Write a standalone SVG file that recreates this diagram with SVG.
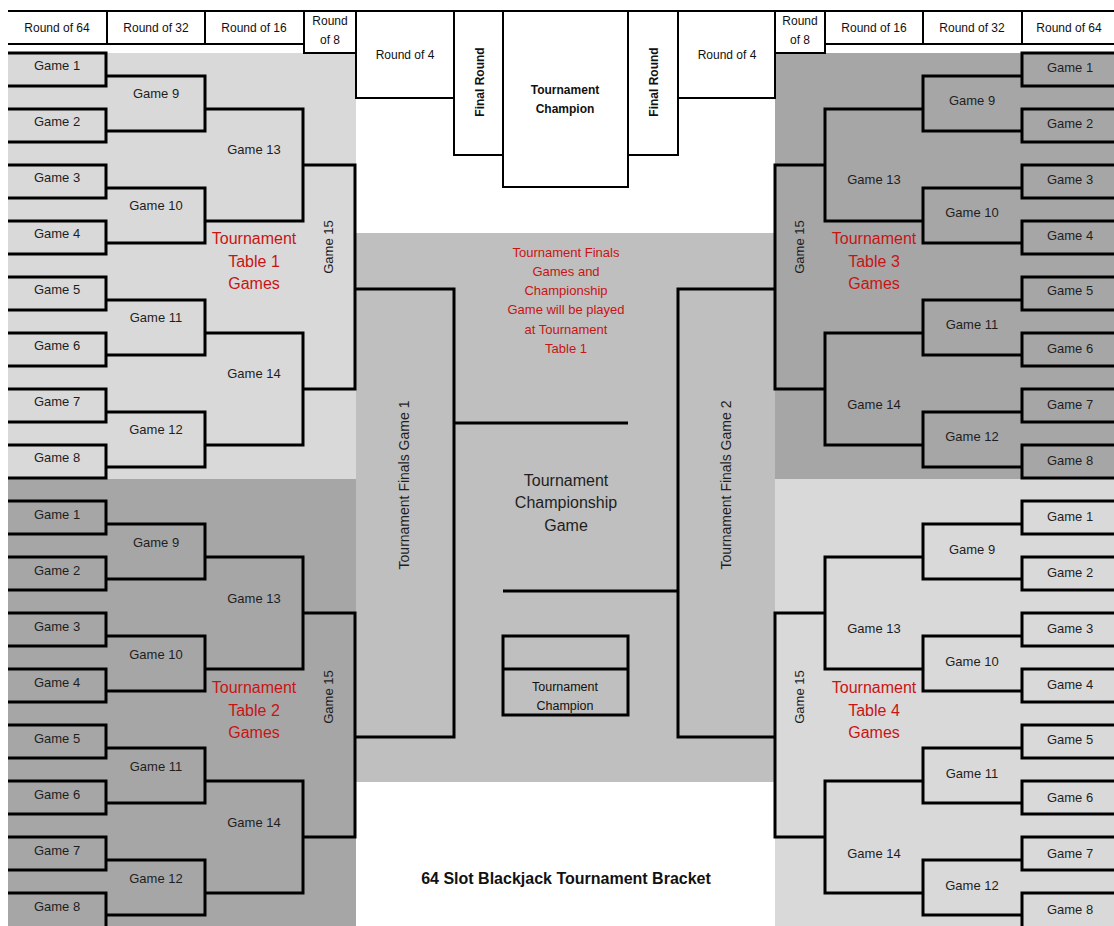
<svg xmlns="http://www.w3.org/2000/svg" width="1114" height="926" viewBox="0 0 1114 926">
<style>
.br{fill:none;stroke:#000;stroke-width:3;stroke-linejoin:miter;stroke-linecap:butt}
.hd{fill:#fff;stroke:#000;stroke-width:2}
.t{font-family:"Liberation Sans",Arial,sans-serif;font-size:13px;fill:#1e1e1e;text-anchor:middle}
.h{font-family:"Liberation Sans",Arial,sans-serif;font-size:12px;fill:#111;text-anchor:middle}
.hb{font-family:"Liberation Sans",Arial,sans-serif;font-size:12px;font-weight:bold;fill:#111;text-anchor:middle}
.red{font-family:"Liberation Sans",Arial,sans-serif;font-size:16px;fill:#c81414;text-anchor:middle}
.red2{font-family:"Liberation Sans",Arial,sans-serif;font-size:13px;fill:#c81414;text-anchor:middle}
.big{font-family:"Liberation Sans",Arial,sans-serif;font-size:16px;fill:#1e1e1e;text-anchor:middle}
.rt{font-family:"Liberation Sans",Arial,sans-serif;font-size:14px;fill:#1e1e1e;text-anchor:middle}
</style>
<rect width="1114" height="926" fill="#fff"/>
<g id="panels">
<rect x="8" y="53" width="348" height="426" fill="#d9d9d9"/>
<rect x="8" y="479" width="348" height="447" fill="#a6a6a6"/>
<rect x="775" y="53" width="339" height="426" fill="#a6a6a6"/>
<rect x="775" y="479" width="339" height="447" fill="#d9d9d9"/>
<rect x="356" y="233" width="419" height="549" fill="#bfbfbf"/>
</g>
<g id="header">
<line x1="8" y1="11" x2="1114" y2="11" stroke="#444" stroke-width="1"/>
<g id="h-l64"><path class="hd" d="M8,11H107V44H8"/><text class="h" x="57" y="32">Round of 64</text></g>
<g id="h-l32"><rect class="hd" x="107" y="11" width="98" height="33"/><text class="h" x="156" y="32">Round of 32</text></g>
<g id="h-l16"><rect class="hd" x="205" y="11" width="99" height="33"/><text class="h" x="254" y="32">Round of 16</text></g>
<g id="h-l8"><rect class="hd" x="304" y="11" width="52" height="42"/><text class="h" x="330" y="25">Round</text><text class="h" x="330" y="44">of 8</text></g>
<g id="h-l4"><rect class="hd" x="356" y="11" width="98" height="87"/><text class="h" x="405" y="59">Round of 4</text></g>
<g id="h-lf"><rect class="hd" x="454" y="11" width="49" height="144"/><text class="hb" x="480" y="86" transform="rotate(-90 480 82)">Final Round</text></g>
<g id="h-champ"><rect class="hd" x="503" y="11" width="125" height="176"/><text class="hb" x="565" y="94">Tournament</text><text class="hb" x="565" y="113">Champion</text></g>
<g id="h-rf"><rect class="hd" x="628" y="11" width="50" height="144"/><text class="hb" x="654" y="86" transform="rotate(-90 654 82)">Final Round</text></g>
<g id="h-r4"><rect class="hd" x="678" y="11" width="97" height="87"/><text class="h" x="727" y="59">Round of 4</text></g>
<g id="h-r8"><rect class="hd" x="775" y="11" width="50" height="42"/><text class="h" x="800" y="25">Round</text><text class="h" x="800" y="44">of 8</text></g>
<g id="h-r16"><rect class="hd" x="825" y="11" width="98" height="33"/><text class="h" x="874" y="32">Round of 16</text></g>
<g id="h-r32"><rect class="hd" x="923" y="11" width="99" height="33"/><text class="h" x="972" y="32">Round of 32</text></g>
<g id="h-r64"><path class="hd" d="M1114,11H1022V44H1114"/><text class="h" x="1069" y="32">Round of 64</text></g>
</g>
<g id="connectors">
<!-- Table 1 -->
<path class="br" d="M8,53H106V86H8M8,109H106V142H8M8,165H106V198H8M8,221H106V254H8M8,277H106V310H8M8,333H106V366H8M8,389H106V422H8M8,445H106V478H8"/>
<path class="br" d="M106,76H205V131H106M106,188H205V243H106M106,300H205V355H106M106,412H205V467H106"/>
<path class="br" d="M205,109H303V221H205M205,333H303V445H205"/>
<path class="br" d="M303,165H355V389H303"/>
<!-- Table 2 -->
<path class="br" d="M8,501H106V534H8M8,557H106V590H8M8,613H106V646H8M8,669H106V702H8M8,725H106V758H8M8,781H106V814H8M8,837H106V870H8M8,893H106V928"/>
<path class="br" d="M106,524H205V579H106M106,636H205V691H106M106,748H205V803H106M106,860H205V915H106"/>
<path class="br" d="M205,557H303V669H205M205,781H303V893H205"/>
<path class="br" d="M303,613H355V837H303"/>
<!-- Table 3 -->
<path class="br" d="M1116,53H1022V86H1116M1116,109H1022V142H1116M1116,165H1022V198H1116M1116,221H1022V254H1116M1116,277H1022V310H1116M1116,333H1022V366H1116M1116,389H1022V422H1116M1116,445H1022V478H1116"/>
<path class="br" d="M1022,76H923V131H1022M1022,188H923V243H1022M1022,300H923V355H1022M1022,412H923V467H1022"/>
<path class="br" d="M923,109H825V221H923M923,333H825V445H923"/>
<path class="br" d="M825,165H775V389H825"/>
<!-- Table 4 -->
<path class="br" d="M1116,501H1022V534H1116M1116,557H1022V590H1116M1116,613H1022V646H1116M1116,669H1022V702H1116M1116,725H1022V758H1116M1116,781H1022V814H1116M1116,837H1022V870H1116M1116,893H1022V928"/>
<path class="br" d="M1022,524H923V579H1022M1022,636H923V691H1022M1022,748H923V803H1022M1022,860H923V915H1022"/>
<path class="br" d="M923,557H825V669H923M923,781H825V893H923"/>
<path class="br" d="M825,613H775V837H825"/>
<!-- Finals -->
<path class="br" d="M355,289H454V737H355"/>
<path class="br" d="M775,289H678V737H775"/>
<path class="br" d="M454,423H628"/>
<path class="br" d="M503,591H678"/>
</g>
<g id="table1">
<text class="t" x="57" y="70">Game 1</text><text class="t" x="57" y="126">Game 2</text><text class="t" x="57" y="182">Game 3</text><text class="t" x="57" y="238">Game 4</text>
<text class="t" x="57" y="294">Game 5</text><text class="t" x="57" y="350">Game 6</text><text class="t" x="57" y="406">Game 7</text><text class="t" x="57" y="462">Game 8</text>
<text class="t" x="156" y="98">Game 9</text><text class="t" x="156" y="210">Game 10</text><text class="t" x="156" y="322">Game 11</text><text class="t" x="156" y="434">Game 12</text>
<text class="t" x="254" y="154">Game 13</text><text class="t" x="254" y="378">Game 14</text>
<text class="t" x="328" y="252" transform="rotate(-90 328 247)">Game 15</text>
<text class="red" x="254" y="244">Tournament</text><text class="red" x="254" y="267">Table 1</text><text class="red" x="254" y="289">Games</text>
</g>
<g id="table2">
<text class="t" x="57" y="519">Game 1</text><text class="t" x="57" y="575">Game 2</text><text class="t" x="57" y="631">Game 3</text><text class="t" x="57" y="687">Game 4</text>
<text class="t" x="57" y="743">Game 5</text><text class="t" x="57" y="799">Game 6</text><text class="t" x="57" y="855">Game 7</text><text class="t" x="57" y="911">Game 8</text>
<text class="t" x="156" y="547">Game 9</text><text class="t" x="156" y="659">Game 10</text><text class="t" x="156" y="771">Game 11</text><text class="t" x="156" y="883">Game 12</text>
<text class="t" x="254" y="603">Game 13</text><text class="t" x="254" y="827">Game 14</text>
<text class="t" x="328" y="702" transform="rotate(-90 328 697)">Game 15</text>
<text class="red" x="254" y="693">Tournament</text><text class="red" x="254" y="716">Table 2</text><text class="red" x="254" y="738">Games</text>
</g>
<g id="table3">
<text class="t" x="1070" y="72">Game 1</text><text class="t" x="1070" y="128">Game 2</text><text class="t" x="1070" y="184">Game 3</text><text class="t" x="1070" y="240">Game 4</text>
<text class="t" x="1070" y="295">Game 5</text><text class="t" x="1070" y="353">Game 6</text><text class="t" x="1070" y="409">Game 7</text><text class="t" x="1070" y="465">Game 8</text>
<text class="t" x="972" y="105">Game 9</text><text class="t" x="972" y="217">Game 10</text><text class="t" x="972" y="329">Game 11</text><text class="t" x="972" y="441">Game 12</text>
<text class="t" x="874" y="184">Game 13</text><text class="t" x="874" y="409">Game 14</text>
<text class="t" x="799" y="252" transform="rotate(-90 799 247)">Game 15</text>
<text class="red" x="874" y="244">Tournament</text><text class="red" x="874" y="267">Table 3</text><text class="red" x="874" y="289">Games</text>
</g>
<g id="table4">
<text class="t" x="1070" y="521">Game 1</text><text class="t" x="1070" y="577">Game 2</text><text class="t" x="1070" y="633">Game 3</text><text class="t" x="1070" y="689">Game 4</text>
<text class="t" x="1070" y="744">Game 5</text><text class="t" x="1070" y="802">Game 6</text><text class="t" x="1070" y="858">Game 7</text><text class="t" x="1070" y="914">Game 8</text>
<text class="t" x="972" y="554">Game 9</text><text class="t" x="972" y="666">Game 10</text><text class="t" x="972" y="778">Game 11</text><text class="t" x="972" y="890">Game 12</text>
<text class="t" x="874" y="633">Game 13</text><text class="t" x="874" y="858">Game 14</text>
<text class="t" x="799" y="702" transform="rotate(-90 799 697)">Game 15</text>
<text class="red" x="874" y="693">Tournament</text><text class="red" x="874" y="716">Table 4</text><text class="red" x="874" y="738">Games</text>
</g>
<g id="finals1"><text class="rt" x="404" y="490" transform="rotate(-90 404 485)">Tournament Finals Game 1</text></g>
<g id="finals2"><text class="rt" x="726" y="490" transform="rotate(-90 726 485)">Tournament Finals Game 2</text></g>
<g id="center-note">
<text class="red2" x="566" y="257">Tournament Finals</text>
<text class="red2" x="566" y="276">Games and</text>
<text class="red2" x="566" y="295">Championship</text>
<text class="red2" x="566" y="314">Game will be played</text>
<text class="red2" x="566" y="334">at Tournament</text>
<text class="red2" x="566" y="353">Table 1</text>
</g>
<g id="championship-game">
<text class="big" x="566" y="486">Tournament</text>
<text class="big" x="566" y="508">Championship</text>
<text class="big" x="566" y="531">Game</text>
</g>
<g id="champion-box">
<rect x="503" y="636" width="125" height="79" fill="none" stroke="#000" stroke-width="3"/>
<line x1="503" y1="669" x2="628" y2="669" stroke="#000" stroke-width="3"/>
<text class="h" style="font-size:12.5px" x="565" y="691">Tournament</text>
<text class="h" style="font-size:12.5px" x="565" y="710">Champion</text>
</g>
<g id="title"><text x="566" y="884" text-anchor="middle" font-family="'Liberation Sans',Arial,sans-serif" font-size="16" font-weight="bold" fill="#111">64 Slot Blackjack Tournament Bracket</text></g>
</svg>
